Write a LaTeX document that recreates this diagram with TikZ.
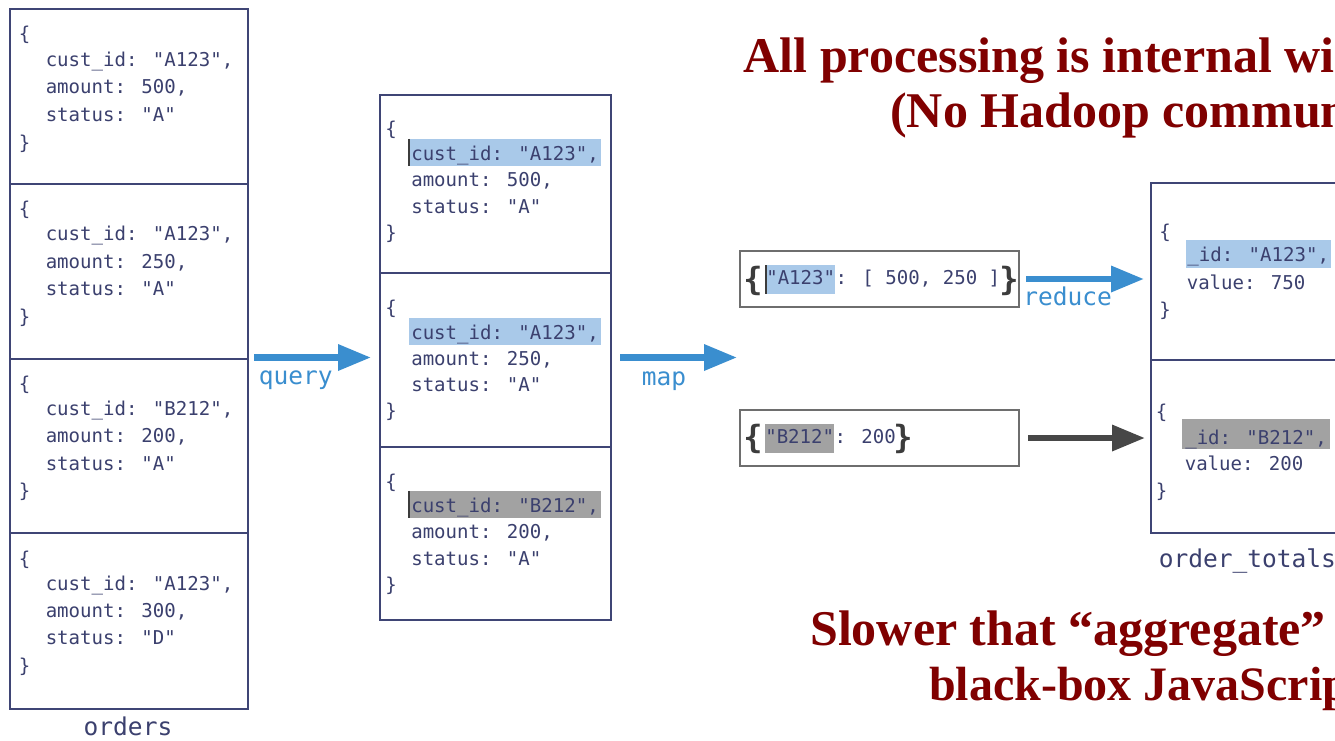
\documentclass[tikz,border=0pt]{standalone}
\usepackage{fontspec}
\setmainfont{Liberation Serif}
\newfontfamily\monof{DejaVu Sans Mono}
\newfontfamily\monobf{DejaVu Sans Mono Bold}
\usetikzlibrary{arrows.meta}
\definecolor{navytext}{HTML}{3B406E}
\definecolor{boxline}{HTML}{3F4575}
\definecolor{arrblue}{HTML}{3A8ECF}
\definecolor{hlblue}{HTML}{A9C9E9}
\definecolor{hlgrey}{HTML}{A2A2A2}
\definecolor{greybox}{HTML}{6E6E6E}
\definecolor{greyarr}{HTML}{474747}
\definecolor{darkred}{HTML}{800000}
\definecolor{bracegrey}{HTML}{3C3C3C}
\newcommand\jrec[9]{%
  \node[code] (#1-o) at (#2,#4) {\{};
  \node[code,firstline] (#1-a) at (#3,#5) {#7};
  \node[code] (#1-b) at (#3,{#5+#6}) {#8};
  \node[code] (#1-c) at (#3,{#5+2*#6}) {#9};
  \node[code] (#1-e) at (#2,{#5+3*#6}) {\}};
}
\begin{document}
\begin{tikzpicture}[x=0.75pt,y=-0.75pt,
  code/.style={font=\monof\fontsize{14.3pt}{17pt}\selectfont, text=navytext, inner sep=0pt, anchor=mid west},
  firstline/.style={},
  hlq/.style={inner xsep=1.5pt, inner ysep=0pt, text height=15.75pt, text depth=4.5pt, xshift=-1.5pt},
  hlm/.style={inner sep=0pt, text height=14pt, text depth=7.3pt},
  hlo/.style={inner xsep=1.2pt, inner ysep=0pt, text height=16.5pt, text depth=4.7pt},
  cursor/.style={draw=bracegrey, line width=1.5pt},
  lbl/.style={font=\monof\fontsize{18.4pt}{22pt}\selectfont, inner sep=0pt},
  bigbr/.style={font=\monobf\fontsize{24pt}{28pt}\selectfont, text=bracegrey, inner sep=0pt, anchor=base west},
  navybox/.style={draw=boxline, line width=1.5pt, rectangle, inner sep=0pt},
  navyline/.style={draw=boxline, line width=1.5pt},
  greyboxst/.style={draw=greybox, line width=1.5pt, rectangle, inner sep=0pt},
  barrow/.style={draw=arrblue, line width=4.8pt, -{Triangle[length=24.75pt, width=18.75pt]}},
  garrow/.style={draw=greyarr, line width=4.8pt, -{Triangle[length=24.75pt, width=18.75pt]}},
  redtxt/.style={font=\bfseries\fontsize{37.5pt}{45pt}\selectfont, text=darkred, anchor=base west, inner sep=0pt}
]
\useasboundingbox (0,0) rectangle (1335,740);
\clip (0,0) rectangle (1335,740);
\fill[white] (0,0) rectangle (1335,740);

% ---------- orders collection ----------
\node[navybox, minimum width=178.5pt, minimum height=525pt] (orders) at (129,359) {};
\draw[navyline] (orders.west |- 0,184) -- (orders.east |- 0,184);
\draw[navyline] (orders.west |- 0,358.5) -- (orders.east |- 0,358.5);
\draw[navyline] (orders.west |- 0,533) -- (orders.east |- 0,533);
\jrec{o1}{18.7}{45.5}{37}{63}{27.7}{cust\_id: "A123",}{amount: 500,}{status: "A"}
\jrec{o2}{18.7}{45.5}{212}{237.5}{27.5}{cust\_id: "A123",}{amount: 250,}{status: "A"}
\jrec{o3}{18.7}{45.5}{387}{412}{27.6}{cust\_id: "B212",}{amount: 200,}{status: "A"}
\jrec{o4}{18.7}{45.5}{562}{587}{27.4}{cust\_id: "A123",}{amount: 300,}{status: "D"}
\node[lbl, text=navytext, anchor=base] (ordlbl) at (128,735) {orders};

% ---------- query result ----------
\node[navybox, minimum width=173.25pt, minimum height=393.75pt] (qbox) at (495.5,357.5) {};
\draw[navyline] (qbox.west |- 0,272.5) -- (qbox.east |- 0,272.5);
\draw[navyline] (qbox.west |- 0,446.5) -- (qbox.east |- 0,446.5);
\begin{scope}[firstline/.style={hlq, fill=hlblue}]
\jrec{q1}{385}{411}{132}{157}{26.5}{cust\_id: "A123",}{amount: 500,}{status: "A"}
\jrec{q2}{385}{411}{311}{336}{26}{cust\_id: "A123",}{amount: 250,}{status: "A"}
\end{scope}
\begin{scope}[firstline/.style={hlq, fill=hlgrey}]
\jrec{q3}{385}{411}{485}{509}{26.5}{cust\_id: "B212",}{amount: 200,}{status: "A"}
\end{scope}
\draw[cursor] (q1-a.north west) -- (q1-a.south west);
\draw[cursor] (q3-a.north west) -- (q3-a.south west);

% ---------- map output ----------
\node[greyboxst, minimum width=209.25pt, minimum height=42pt] (m1) at (879.5,279) {};
\node[greyboxst, minimum width=209.25pt, minimum height=42pt] (m2) at (879.5,438) {};
\node[bigbr] (m1-o) at (743,290.3) {\{};
\node[code, hlm, fill=hlblue] (m1-k) at (766,281) {"A123"};
\node[code] (m1-v) at (m1-k.mid east) {: [ 500, 250 ]};
\node[bigbr] (m1-e) at (999,290.3) {\}};
\draw[cursor] (m1-k.north west) -- (m1-k.south west);
\node[bigbr] (m2-o) at (743,448.3) {\{};
\node[code, hlm, fill=hlgrey] (m2-k) at (765,440) {"B212"};
\node[code] (m2-v) at (m2-k.mid east) {: 200};
\node[bigbr] (m2-e) at (893,448.3) {\}};

% ---------- order_totals ----------
\node[navybox, minimum width=145.5pt, minimum height=262.5pt] (ot) at (1248,358) {};
\draw[navyline] (ot.west |- 0,360) -- (ot.east |- 0,360);
\node[code] (t1-o) at (1159,235) {\{};
\node[code, hlo, fill=hlblue] (t1-a) at (1185.6,258.5) {\_id: "A123",\hspace{3.3pt}};
\node[code] (t1-b) at (1186.5,286) {value: 750};
\node[code] (t1-e) at (1159,313) {\}};
\node[code] (t2-o) at (1155.5,415) {\{};
\node[code, hlo, fill=hlgrey, inner xsep=2.25pt, text height=18.5pt, text depth=4pt] (t2-a) at (1182,441) {\_id: "B212",\hspace{4pt}};
\node[code] (t2-b) at (1184.5,467) {value: 200};
\node[code] (t2-e) at (1155.5,494) {\}};
\node[lbl, text=navytext, anchor=base west] (otlbl) at (1158.5,567) {order\_totals};

% ---------- arrows ----------
\coordinate (qa) at (orders.east |- qbox.west);
\draw[barrow] ([xshift=3.75pt]qa) -- ([xshift=-6pt]qbox.west);
\node[lbl, text=arrblue, anchor=mid west] (qlbl) at (258.5,381) {query};
\coordinate (mapend) at ([xshift=-1.5pt]m1.west |- qbox.east);
\draw[barrow] ([xshift=6pt]qbox.east) -- (mapend);
\node[lbl, text=arrblue, anchor=mid west] (maplbl) at (641.5,382.5) {map};
\coordinate (ra) at (m1.east -| ot.west);
\draw[barrow] ([xshift=4.5pt]m1.east) -- ([xshift=-4.5pt]ra);
\node[lbl, text=arrblue, anchor=mid west] (redlbl) at (1023,302.5) {reduce};
\coordinate (ga) at (m2.east -| ot.west);
\draw[garrow] ([xshift=6pt]m2.east) -- ([xshift=-3.75pt]ga);

% ---------- notes ----------
\node[redtxt] (n1) at (743.5,72) {All processing is internal wi};
\node[redtxt] (n2) at (890,127) {(No Hadoop commun};
\node[redtxt] (n3) at (810,645) {Slower that “aggregate”};
\node[redtxt, font=\bfseries\fontsize{36pt}{44pt}\selectfont] (n4) at (929,700) {black-box JavaScrip};
\end{tikzpicture}
\end{document}
